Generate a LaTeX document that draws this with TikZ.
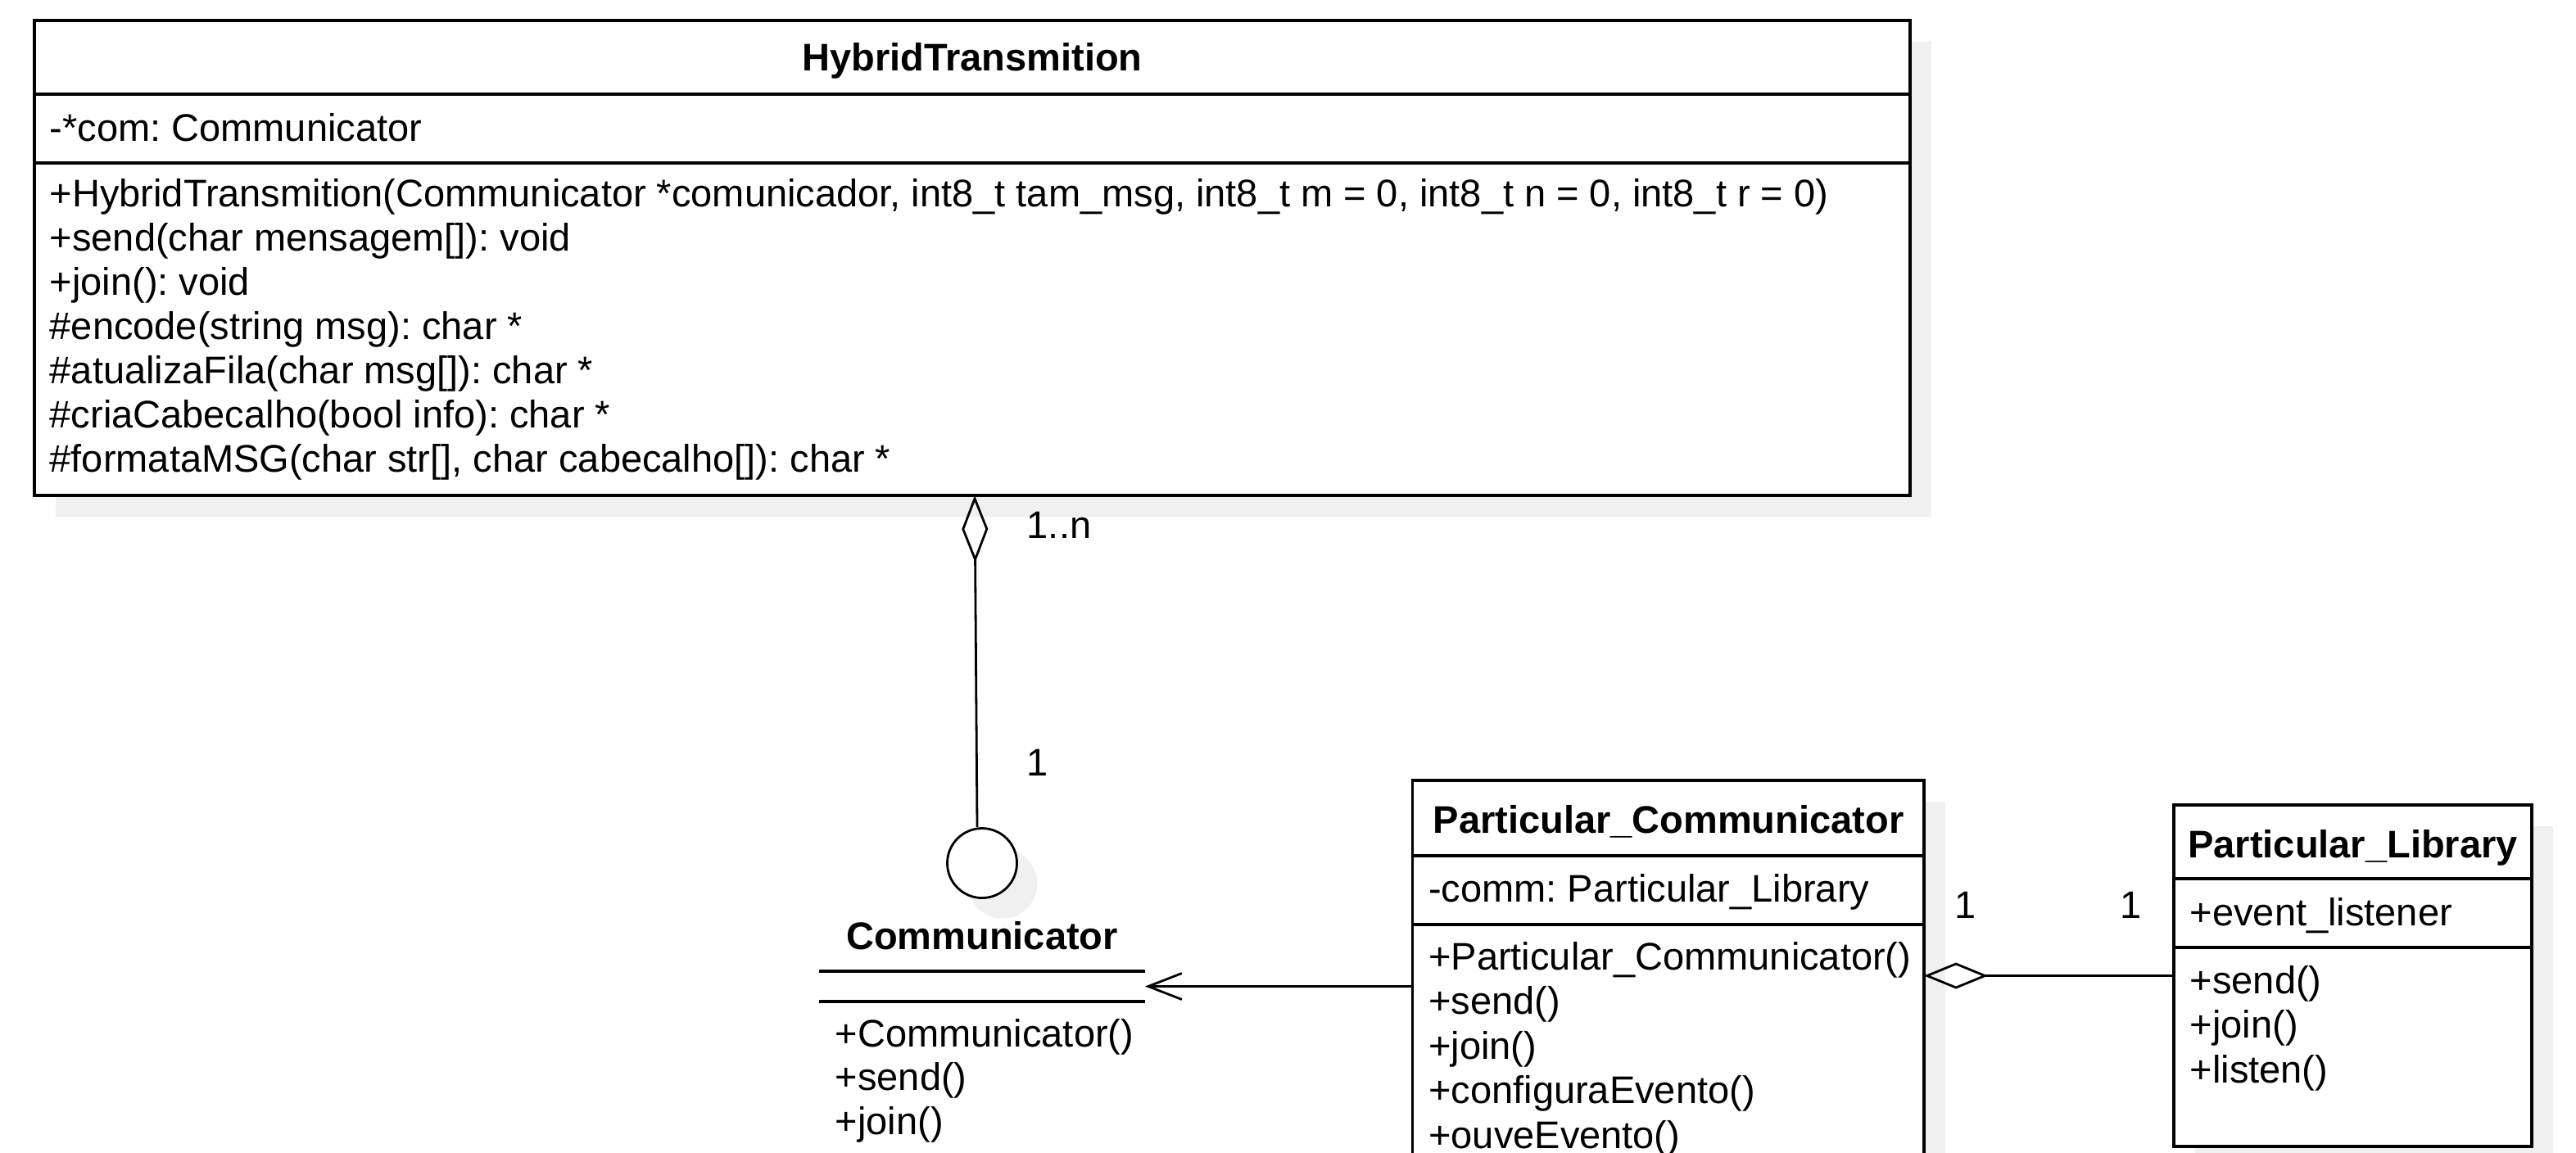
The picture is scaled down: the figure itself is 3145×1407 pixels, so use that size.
\documentclass[tikz,border=0pt]{standalone}
\usepackage{fontspec}
\setmainfont{Liberation Sans}
\usetikzlibrary{arrows.meta}
\definecolor{shadowc}{RGB}{240,240,240}
\frenchspacing
\tikzset{
  umlbox/.style={draw, line width=0.8pt, fill=white, inner sep=0pt, outer sep=0pt, anchor=north west},
  txt/.style={inner sep=0pt, anchor=base west, font=\fontsize{11.75pt}{13.5pt}\selectfont},
  ttl/.style={inner sep=0pt, anchor=base, font=\fontsize{11.75pt}{13.5pt}\selectfont\bfseries},
  divider/.style={line width=0.8pt},
  conn/.style={line width=0.7pt},
  shade/.style={fill=shadowc},
}
\begin{document}
\begin{tikzpicture}[x=0.25pt,y=-0.25pt]
\useasboundingbox (0,0) rectangle (3145,1407);
\clip (0,0) rectangle (3145,1407);
\fill[white] (0,0) rectangle (3145,1407);
% shadows
\fill[shade] (68,51) rectangle (2358,631);
\fill[shade] (1750.5,979) rectangle (2375,1466);
\fill[shade] (2680,1009) rectangle (3117,1426);
\fill[shade] (1224,1079) circle[radius=42.5];

% HybridTransmition
\node[umlbox, minimum width=572.5pt, minimum height=145pt] (ht) at (42,25) {};
\draw[divider] (42,115) -- (2332,115);
\draw[divider] (42,199) -- (2332,199);
\node[ttl] (httitle) at (1187,86) {HybridTransmition};
\node[txt] (htattr) at (60,172) {-*com: Communicator};
\foreach \t [count=\i from 0] in {
  {+HybridTransmition(Communicator *comunicador, int8\_t tam\_msg, int8\_t m = 0, int8\_t n = 0, int8\_t r = 0)},
  {+send(char mensagem[]): void},
  {+join(): void},
  {\#encode(string msg): char *},
  {\#atualizaFila(char msg[]): char *},
  {\#criaCabecalho(bool info): char *},
  {\#formataMSG(char str[], char cabecalho[]): char *}}
  \node[txt] (htm\i) at (60,252+54*\i) {\t};

% Communicator interface
\node[circle, draw, line width=0.7pt, fill=white, minimum size=21.25pt, inner sep=0pt] (ci) at (1199,1054) {};
\draw[conn, {Diamond[open,length=20.5pt,width=8pt]}-] ([xshift=0.75pt]ht.south) -- ([xshift=-1.5pt]ci.north);
\node[txt] (mult1) at (1253,657) {1..n};
\node[txt] (mult2) at (1253,947) {1};
\node[ttl] (ctitle) at (1199,1159) {Communicator};
\node[inner sep=0pt, outer sep=0pt, minimum width=99.5pt, minimum height=9.25pt, anchor=north west] (cbody) at (1000,1186) {};
\draw[divider] (cbody.north west) -- (cbody.north east);
\draw[divider] (cbody.south west) -- (cbody.south east);
\foreach \t [count=\i from 0] in {+Communicator(), +send(), +join()}
  \node[txt] (cm\i) at (1019,1278+53.5*\i) {\t};

% Particular_Communicator
\node[umlbox, minimum width=156.125pt, minimum height=121.75pt] (pc) at (1724.5,953) {};
\draw[divider] (1724.5,1045) -- (2349,1045);
\draw[divider] (1724.5,1129) -- (2349,1129);
\node[ttl] (pctitle) at (2037,1017) {Particular\_Communicator};
\node[txt] (pcattr) at (1743.5,1101) {-comm: Particular\_Library};
\foreach \t [count=\i from 0] in {+Particular\_Communicator(), +send(), +join(), +configuraEvento(), +ouveEvento()}
  \node[txt] (pcm\i) at (1743.5,1184+54.5*\i) {\t};
\draw[conn, -{Straight Barb[length=10.25pt,width=8pt]}] (pc.west |- cbody.east) -- (cbody.east);

% Particular_Library
\node[umlbox, minimum width=109.25pt, minimum height=104.25pt] (pl) at (2654,983) {};
\draw[divider] (2654,1073) -- (3091,1073);
\draw[divider] (2654,1157) -- (3091,1157);
\node[ttl] (pltitle) at (2872.5,1047) {Particular\_Library};
\node[txt] (plattr) at (2673,1130) {+event\_listener};
\foreach \t [count=\i from 0] in {+send(), +join(), +listen()}
  \node[txt] (plm\i) at (2673,1213+54.5*\i) {\t};
\draw[conn, -{Diamond[open,length=19.5pt,width=8pt]}] (pl.west) -- (pc.east |- pl.west);
\node[txt] (mult3) at (2386,1121) {1};
\node[txt] (mult4) at (2588,1121) {1};
\end{tikzpicture}
\end{document}
